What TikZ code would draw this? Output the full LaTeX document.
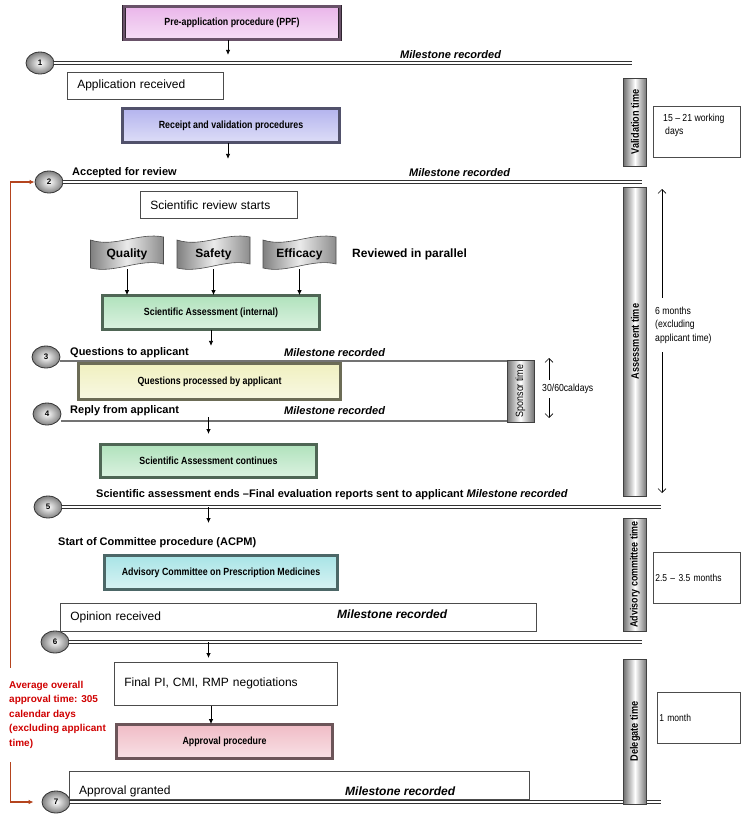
\documentclass[tikz,border=0pt]{standalone}
\usepackage{fontspec}
\setmainfont{Liberation Sans}
\newfontfamily\narrowsf{Liberation Sans}[FakeStretch=0.85]
\usepackage{tikz}
\usetikzlibrary{shapes.geometric, arrows.meta}

\definecolor{ppfcol}{HTML}{EAB6EA}
\definecolor{valcol}{HTML}{B4B4EE}
\definecolor{sacol}{HTML}{B0E2BC}
\definecolor{qcol}{HTML}{F0F0C0}
\definecolor{accol}{HTML}{A8E4E6}
\definecolor{apcol}{HTML}{F0BCC6}
\definecolor{redline}{HTML}{B4441E}
\definecolor{redtext}{HTML}{D00000}

\tikzset{
  procbox/.style={draw=#1!20!black, double=#1!45!black, double distance=2.2pt, line width=0.8pt,
    top color=#1, bottom color=#1!45!white, inner sep=0pt,
    font=\narrowsf\bfseries\fontsize{10.4}{12}\selectfont},
  notebox/.style={draw=black!70, line width=0.6pt, fill=white, inner xsep=10pt, inner ysep=0pt,
    align=left, font=\fontsize{12}{14}\selectfont},
  sidebox/.style={draw=black!70, line width=0.6pt, fill=white, inner sep=0pt,
    font=\narrowsf\fontsize{10}{12.5}\selectfont},
  mstone/.style={ellipse, draw=black!80, line width=0.8pt, inner color=white, outer color=black!50,
    minimum width=28, minimum height=22, inner sep=0pt, font=\bfseries\fontsize{8}{8}\selectfont},
  msline/.style={draw=black!80, line width=1pt, double=white, double distance=1.4pt},
  thinline/.style={draw=black!55, line width=1.2pt},
  timebar/.style={draw=black!75, line width=0.6pt, minimum width=23, inner sep=0pt,
    left color=black!55, right color=black!55, middle color=white},
  bartext/.style={rotate=90, inner sep=0pt, font=\narrowsf\bfseries\fontsize{10.8}{12}\selectfont},
  banner/.style={draw=black!70, line width=0.6pt, left color=black!50, right color=black!45, middle color=black!8},
  flow/.style={-{Latex[length=5pt, width=4.5pt]}, line width=0.8pt},
  span/.style={{Straight Barb[length=4pt]}-{Straight Barb[length=4pt]}, line width=0.6pt},
  redarrow/.style={draw=redline, line width=1.3pt, {Latex[length=5pt, width=4.5pt]}-{Latex[length=5pt, width=4.5pt]}},
  mslabel/.style={font=\bfseries\fontsize{11}{13}\selectfont, inner sep=0pt},
  mrec/.style={font=\bfseries\itshape\fontsize{11}{13}\selectfont, inner sep=0pt},
  plain/.style={font=\fontsize{12}{14}\selectfont, inner sep=0pt},
  sidetext/.style={font=\narrowsf\fontsize{10.2}{13.5}\selectfont, inner sep=0pt, align=left},
}

\begin{document}
\begin{tikzpicture}[x=1pt, y=-1pt]
\def\barx{635}
\useasboundingbox (0,0) rectangle (743,819);

% milestones
\foreach \n/\x/\y in {1/40/63, 2/49/182, 3/46/357, 4/47/414, 5/48/507, 6/55/642, 7/56/802}
  \node[mstone] (m\n) at (\x,\y) {\n};
\coordinate (e1) at (632,63);
\coordinate (e2) at (642,182);
\coordinate (e3) at (507,361);
\coordinate (e4) at (507,421);
\coordinate (e5) at (661,507);
\coordinate (e6) at (642,642);
\coordinate (e7) at (661,802);
\draw[msline] (m1) -- (e1);
\draw[msline] (m2) -- (e2);
\draw[thinline] (m3.east |- e3) -- (e3);
\draw[thinline] (m4.east |- e4) -- (e4);
\draw[msline] (m5) -- (e5);
\draw[msline] (m6) -- (e6);

% process boxes
\node[procbox=ppfcol, minimum width=216, minimum height=33] (ppf) at (232,23) {Pre-application procedure (PPF)};
\node[notebox, text width=136, minimum height=27, anchor=north west] (apprec) at (67,72) {Application received};
\node[procbox=valcol, minimum width=217, minimum height=34] (valid) at (231,125.5) {Receipt and validation procedures};
\node[notebox, text width=137, minimum height=27, anchor=north west] (srs) at (140,191) {Scientific review starts};
\foreach \nm/\cx/\lbl in {qual/127/Quality, safe/213.5/Safety, effi/299.5/Efficacy}{
  \draw[banner] (\cx-36.5,240) .. controls (\cx-12,248) and (\cx+12,232) .. (\cx+36.5,237)
    -- (\cx+36.5,264) .. controls (\cx+12,258) and (\cx-12,274) .. (\cx-36.5,268) -- cycle;
  \node[font=\bfseries\fontsize{12}{14}\selectfont, minimum height=30, inner sep=0pt] (\nm) at (\cx,254) {\lbl};
}
\node[font=\bfseries\fontsize{12}{14}\selectfont, inner sep=0pt, anchor=west] (par) at (352,254) {Reviewed in parallel};
\node[procbox=sacol, minimum width=217, minimum height=34] (sa) at (211,312.5) {Scientific Assessment (internal)};
\node[procbox=qcol, minimum width=262, minimum height=36] (quest) at (209.5,381.5) {Questions processed by applicant};
\node[procbox=sacol, minimum width=216, minimum height=33] (sacont) at (208.5,461) {Scientific Assessment continues};
\node[procbox=accol, minimum width=233, minimum height=34] (acpm) at (221,572.5) {Advisory Committee on Prescription Medicines};
\node[notebox, text width=456, minimum height=28, anchor=north west] (opin) at (60,603) {Opinion received};
\node[mrec, font=\bfseries\itshape\fontsize{12}{14}\selectfont, anchor=west] (mr6) at (337,614) {Milestone recorded};
\node[notebox, text width=203, minimum height=43, anchor=north west] (finpi) at (114,662) {Final PI, CMI, RMP negotiations};
\node[procbox=apcol, minimum width=216, minimum height=34] (appr) at (224.5,741.5) {Approval procedure};
\node[notebox, text width=440, minimum height=28, anchor=north west] (grant) at (69,771) {};
\node[plain, anchor=west] (grtxt) at (79,791) {Approval granted};
\node[mrec, font=\bfseries\itshape\fontsize{12}{14}\selectfont, anchor=west] (mr7) at (345,791) {Milestone recorded};
\draw[msline] (m7) -- (e7);

% milestone labels
\node[mrec, anchor=west] (mr1) at (400,55) {Milestone recorded};
\node[mslabel, anchor=west] (acc) at (72,173) {Accepted for review};
\node[mrec, anchor=west] (mr2) at (409,173) {Milestone recorded};
\node[mslabel, anchor=west] (qta) at (70,353) {Questions to applicant};
\node[mrec, anchor=west] (mr3) at (284,353) {Milestone recorded};
\node[mslabel, anchor=west] (rfa) at (70,411) {Reply from applicant};
\node[mrec, anchor=west] (mr4) at (284,411) {Milestone recorded};
\node[mslabel, anchor=west] (saend) at (96,495) {Scientific assessment ends –Final evaluation reports sent to applicant \textit{Milestone recorded}};
\node[mslabel, anchor=west] (acstart) at (58,543) {Start of Committee procedure (ACPM)};

% flow arrows
\draw[flow] ([xshift=-4pt]ppf.south) -- ++(0,15);
\draw[flow] ([xshift=-3pt]valid.south) -- ++(0,16);
\foreach \nm in {qual,safe,effi}
  \draw[flow] (\nm.south) -- (\nm.south |- sa.north);
\draw[flow] (sa.south) -- ++(0,16);
\draw[flow] (sacont.north |- e4) ++(0,-4) -- ++(0,17);
\draw[flow] (sacont.north |- e5) -- ++(0,16);
\draw[flow] (sacont.north |- e6) -- ++(0,16);
\draw[flow] (sa.south |- finpi.south) -- (sa.south |- appr.north);

% time bars
\node[timebar, minimum height=88] (vbar) at (\barx,122) {};
\node[bartext] (vbartxt) at (vbar) {Validation time};
\node[timebar, minimum height=309] (abar) at (\barx,341.5) {};
\node[bartext] (abartxt) at (abar) {Assessment time};
\node[timebar, minimum height=113] (cbar) at (\barx,574.5) {};
\node[bartext, font=\narrowsf\bfseries\fontsize{10.5}{12}\selectfont] (cbartxt) at (cbar) {Advisory committee time};
\node[timebar, minimum height=145] (dbar) at (\barx,731.5) {};
\node[bartext] (dbartxt) at (dbar) {Delegate time};
\node[timebar, minimum width=27, minimum height=62] (sbar) at (520.5,391) {};
\node[bartext, font=\narrowsf\fontsize{10.5}{12}\selectfont] (sbartxt) at (sbar) {Sponsor time};

% durations
\coordinate (sp1) at (549,358);
\coordinate (sp2) at (549,418);
\draw[span] (sp1) -- (sp2);
\node[sidetext, fill=white, anchor=west, inner xsep=1pt, inner ysep=4pt] (cal) at (541,389) {30/60caldays};
\coordinate (as1) at (662,189);
\coordinate (as2) at (662,493);
\draw[span] (as1) -- (as2);
\node[sidetext, fill=white, anchor=west, inner xsep=2pt, inner ysep=9pt] (sixm) at (653,325) {6 months\\(excluding\\applicant time)};
\node[sidebox, minimum width=87, minimum height=51, anchor=north west] (valdays) at (653,106) {};
\node[sidetext, anchor=north west] (valtxt) at (663,113.5) {15 – 21 working\\\hspace{2pt}days};
\node[sidebox, text width=83, inner xsep=2pt, minimum height=51, anchor=north west, align=left] (acdays) at (653,552) {2.5 – 3.5 months};
\node[sidebox, text width=79, inner xsep=2pt, minimum height=51, anchor=north west, align=left] (delmonth) at (657,692) {1 month};

% overall time
\draw[redarrow] (m2.west) -- ++(-24,0) |- ([xshift=-8pt]m7.west);
\node[fill=white, text=redtext, anchor=north west, align=left, inner xsep=2pt, inner ysep=13pt,
  font=\bfseries\fontsize{10}{14.5}\selectfont] (avg) at (7,668)
  {Average overall\\approval time: 305\\calendar days\\(excluding applicant\\time)};
\end{tikzpicture}
\end{document}
